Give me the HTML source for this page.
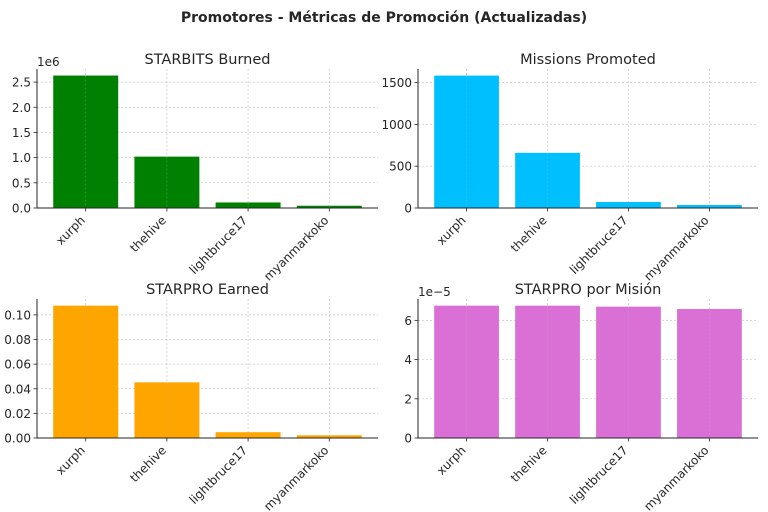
<!DOCTYPE html>
<html><head><meta charset="utf-8">
<style>
body{margin:0;background:#fff;}
svg{display:block;font-family:"DejaVu Sans","Liberation Sans",sans-serif;}
</style></head>
<body>
<svg id="fig" width="768" height="512" viewBox="0 0 768 512">
<text x="384" y="22" text-anchor="middle" font-size="14" font-weight="bold" fill="#262626">Promotores - Métricas de Promoción (Actualizadas)</text>
</svg>
<script>
const categories = ["xurph","thehive","lightbruce17","myanmarkoko"];
const starbitsBurned = [2.63e6, 1.02e6, 0.11e6, 0.045e6];
const missionsPromoted = [1584, 660, 72, 36];
const starproEarned = [0.1075, 0.0452, 0.0047, 0.0022];
const starproPorMision = [6.75e-5, 6.75e-5, 6.70e-5, 6.58e-5];
const ticksBurned = [0, 0.5e6, 1e6, 1.5e6, 2e6, 2.5e6];
const tickLabelsBurned = ["0.0","0.5","1.0","1.5","2.0","2.5"];
const ticksMissions = [0, 500, 1000, 1500];
const tickLabelsMissions = ["0","500","1000","1500"];
const ticksEarned = [0, 0.02, 0.04, 0.06, 0.08, 0.10];
const tickLabelsEarned = ["0.00","0.02","0.04","0.06","0.08","0.10"];
const ticksPorMision = [0, 2e-5, 4e-5, 6e-5];
const tickLabelsPorMision = ["0","2","4","6"];

const NS = "http://www.w3.org/2000/svg";
const fig = document.getElementById("fig");
function el(tag, attrs, parent){
  const e = document.createElementNS(NS, tag);
  for (const k in attrs) e.setAttribute(k, attrs[k]);
  (parent||fig).appendChild(e);
  return e;
}
function panel(name, title, L, R, T, B, ymax, values, ticks, labels, color, offsetLabel){
  const g = el("g", {});
  
  
  const xs = i => L + (i + 0.6) / 4.2 * (R - L);
  const ys = v => B - v / ymax * (B - T);
  const bw = 0.8 / 4.2 * (R - L);
  // grid
  ticks.forEach((t, i) => {
    const y = ys(t);
    const gl = el("line", {x1:L, x2:R, y1:y, y2:y, stroke:"#b0b0b0", "stroke-width":0.7, "stroke-dasharray":"2,2", opacity:0.7}, g);
    
    
  });
  categories.forEach((c, i) => {
    const x = xs(i);
    const gl = el("line", {x1:x, x2:x, y1:T, y2:B, stroke:"#b0b0b0", "stroke-width":0.7, "stroke-dasharray":"2,2", opacity:0.7}, g);
    
    
  });
  // bars
  values.forEach((v, i) => {
    const r = el("rect", {x:xs(i) - bw/2, y:ys(v), width:bw, height:B - ys(v), fill:color}, g);
    
    
  });
  // re-draw vertical grid over bars faintly
  categories.forEach((c, i) => {
    const x = xs(i);
    el("line", {x1:x, x2:x, y1:ys(values[i]), y2:B, stroke:"#b0b0b0", "stroke-width":0.6, "stroke-dasharray":"2,2", opacity:0.5}, g);
  });
  // axes
  const ax = el("path", {d:`M${L},${T} L${L},${B} L${R},${B}`, fill:"none", stroke:"#262626", "stroke-width":1}, g);
  
  
  ticks.forEach((t, i) => {
    const y = ys(t);
    el("line", {x1:L-3.5, x2:L, y1:y, y2:y, stroke:"#262626", "stroke-width":0.8}, g);
    const tx = el("text", {x:L-6, y:y+4.5, "text-anchor":"end", "font-size":12, fill:"#262626"}, g);
    tx.textContent = labels[i];
    
    
  });
  categories.forEach((c, i) => {
    const x = xs(i);
    el("line", {x1:x, x2:x, y1:B, y2:B+3.5, stroke:"#262626", "stroke-width":0.8}, g);
    const tx = el("text", {x:x, y:B+13, "text-anchor":"end", "font-size":12, fill:"#262626", transform:`rotate(-45 ${x} ${B+13})`}, g);
    tx.textContent = c;
    
    
  });
  const tt = el("text", {x:(L+R)/2, y:T-5, "text-anchor":"middle", "font-size":14.5, fill:"#262626"}, g);
  tt.textContent = title;
  
  
  if (offsetLabel){
    const o = el("text", {x:L, y:T-3, "font-size":12, fill:"#262626"}, g);
    o.textContent = offsetLabel;
    
    
  }
}
panel("starbits-burned", "STARBITS Burned", 37, 378, 69, 208, 2.76e6, starbitsBurned, ticksBurned, tickLabelsBurned, "#008000", "1e6");
panel("missions-promoted", "Missions Promoted", 418, 758, 69, 208, 1663, missionsPromoted, ticksMissions, tickLabelsMissions, "#00bfff", null);
panel("starpro-earned", "STARPRO Earned", 37, 378, 299, 438, 0.1129, starproEarned, ticksEarned, tickLabelsEarned, "#ffa500", null);
panel("starpro-por-mision", "STARPRO por Misión", 418, 758, 299, 438, 7.09e-5, starproPorMision, ticksPorMision, tickLabelsPorMision, "#da70d6", "1e\u22125");
</script>
</body></html>
